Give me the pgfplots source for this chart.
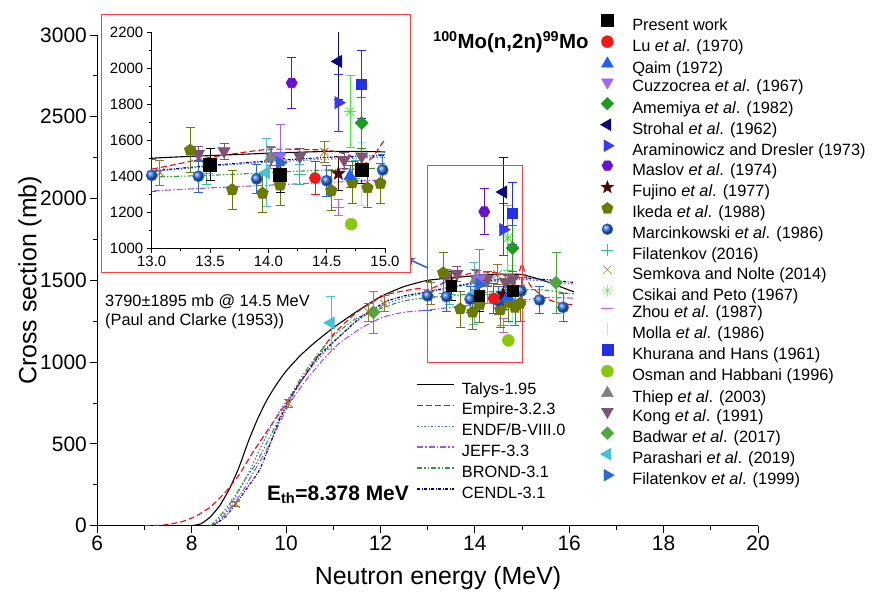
\documentclass[border=0pt]{standalone}
\usepackage{pgfplots}
\pgfplotsset{compat=1.18}
\usepackage{pgfplotstable}
\usepackage{fontspec}
\setmainfont{Liberation Sans}
\usetikzlibrary{arrows.meta}

% ---------- custom marks ----------
\pgfdeclareplotmark{rtri}{\pgfpathmoveto{\pgfpointpolar{0}{1.25\pgfplotmarksize}}\pgfpathlineto{\pgfpointpolar{120}{1.25\pgfplotmarksize}}\pgfpathlineto{\pgfpointpolar{240}{1.25\pgfplotmarksize}}\pgfpathclose\pgfusepathqfillstroke}
\pgfdeclareplotmark{ltri}{\pgfpathmoveto{\pgfpointpolar{180}{1.25\pgfplotmarksize}}\pgfpathlineto{\pgfpointpolar{300}{1.25\pgfplotmarksize}}\pgfpathlineto{\pgfpointpolar{60}{1.25\pgfplotmarksize}}\pgfpathclose\pgfusepathqfillstroke}
\pgfdeclareplotmark{utri}{\pgfpathmoveto{\pgfpointpolar{90}{1.25\pgfplotmarksize}}\pgfpathlineto{\pgfpointpolar{210}{1.25\pgfplotmarksize}}\pgfpathlineto{\pgfpointpolar{330}{1.25\pgfplotmarksize}}\pgfpathclose\pgfusepathqfillstroke}
\pgfdeclareplotmark{dtri}{\pgfpathmoveto{\pgfpointpolar{270}{1.25\pgfplotmarksize}}\pgfpathlineto{\pgfpointpolar{30}{1.25\pgfplotmarksize}}\pgfpathlineto{\pgfpointpolar{150}{1.25\pgfplotmarksize}}\pgfpathclose\pgfusepathqfillstroke}
\pgfdeclareplotmark{hexa}{\pgfpathmoveto{\pgfpointpolar{0}{\pgfplotmarksize}}\pgfpathlineto{\pgfpointpolar{60}{\pgfplotmarksize}}\pgfpathlineto{\pgfpointpolar{120}{\pgfplotmarksize}}\pgfpathlineto{\pgfpointpolar{180}{\pgfplotmarksize}}\pgfpathlineto{\pgfpointpolar{240}{\pgfplotmarksize}}\pgfpathlineto{\pgfpointpolar{300}{\pgfplotmarksize}}\pgfpathclose\pgfusepathqfillstroke}
\pgfdeclareplotmark{rdiam}{\pgfpathmoveto{\pgfpointpolar{0}{1.15\pgfplotmarksize}}\pgfpathlineto{\pgfpointpolar{90}{1.15\pgfplotmarksize}}\pgfpathlineto{\pgfpointpolar{180}{1.15\pgfplotmarksize}}\pgfpathlineto{\pgfpointpolar{270}{1.15\pgfplotmarksize}}\pgfpathclose\pgfusepathqfillstroke}
\pgfdeclareplotmark{fstar}{\pgfpathmoveto{\pgfpointpolar{90}{1.2\pgfplotmarksize}}%
\pgfpathlineto{\pgfpointpolar{126}{0.5\pgfplotmarksize}}\pgfpathlineto{\pgfpointpolar{162}{1.2\pgfplotmarksize}}%
\pgfpathlineto{\pgfpointpolar{198}{0.5\pgfplotmarksize}}\pgfpathlineto{\pgfpointpolar{234}{1.2\pgfplotmarksize}}%
\pgfpathlineto{\pgfpointpolar{270}{0.5\pgfplotmarksize}}\pgfpathlineto{\pgfpointpolar{306}{1.2\pgfplotmarksize}}%
\pgfpathlineto{\pgfpointpolar{342}{0.5\pgfplotmarksize}}\pgfpathlineto{\pgfpointpolar{18}{1.2\pgfplotmarksize}}%
\pgfpathlineto{\pgfpointpolar{54}{0.5\pgfplotmarksize}}\pgfpathclose\pgfusepathqfillstroke}
\pgfdeclareplotmark{ast8}{\pgfpathmoveto{\pgfpointpolar{0}{\pgfplotmarksize}}\pgfpathlineto{\pgfpointpolar{180}{\pgfplotmarksize}}%
\pgfpathmoveto{\pgfpointpolar{45}{\pgfplotmarksize}}\pgfpathlineto{\pgfpointpolar{225}{\pgfplotmarksize}}%
\pgfpathmoveto{\pgfpointpolar{90}{\pgfplotmarksize}}\pgfpathlineto{\pgfpointpolar{270}{\pgfplotmarksize}}%
\pgfpathmoveto{\pgfpointpolar{135}{\pgfplotmarksize}}\pgfpathlineto{\pgfpointpolar{315}{\pgfplotmarksize}}\pgfusepathqstroke}

% ---------- colours ----------
\definecolor{cLu}{RGB}{240,25,25}
\definecolor{cQaim}{RGB}{30,95,255}
\definecolor{cCuz}{RGB}{164,99,242}
\definecolor{cAme}{RGB}{31,154,31}
\definecolor{cStr}{RGB}{10,10,122}
\definecolor{cAra}{RGB}{56,56,245}
\definecolor{cMas}{RGB}{102,18,204}
\definecolor{cFuj}{RGB}{77,10,10}
\definecolor{cIke}{RGB}{107,122,0}
\definecolor{cMar}{RGB}{40,105,215}
\definecolor{cFilA}{RGB}{47,191,154}
\definecolor{cSem}{RGB}{160,112,46}
\definecolor{cCsi}{RGB}{68,238,51}
\definecolor{cZho}{RGB}{198,94,224}
\definecolor{cMol}{RGB}{153,245,221}
\definecolor{cKhu}{RGB}{35,48,232}
\definecolor{cOsm}{RGB}{136,200,10}
\definecolor{cThi}{RGB}{128,128,128}
\definecolor{cKon}{RGB}{127,84,112}
\definecolor{cBad}{RGB}{79,168,61}
\definecolor{cPar}{RGB}{69,194,213}
\definecolor{cFilB}{RGB}{42,106,208}
\definecolor{cEmp}{RGB}{255,0,0}
\definecolor{cEndf}{RGB}{58,108,255}
\definecolor{cJeff}{RGB}{166,77,255}
\definecolor{cBrond}{RGB}{51,153,51}
\definecolor{cCendl}{RGB}{0,0,153}

% ---------- model curves ----------
\pgfplotstableread{
x y
8.0 0
8.2 12
8.4 55
8.6 125
8.8 225
9.0 355
9.2 515
9.4 655
9.6 772
9.8 865
10.0 945
10.3 1040
10.6 1118
11.0 1210
11.5 1310
12.0 1400
12.5 1462
13.0 1500
13.5 1515
14.0 1528
14.5 1538
15.0 1535
15.5 1495
16.0 1440
16.1 1430
}\tTalys
\pgfplotstableread{
x y
7.0 0
7.4 4
7.8 25
8.1 60
8.4 115
8.7 200
9.0 310
9.3 450
9.6 580
9.9 705
10.3 875
10.7 1050
11.0 1170
11.5 1305
12.1 1410
12.8 1450
13.0 1440
13.5 1505
14.0 1550
14.5 1545
14.7 1515
14.8 1460
14.9 1510
15.0 1600
15.1 1510
15.2 1460
15.5 1390
15.8 1360
16.1 1350
}\tEmpire
\pgfplotstableread{
x y
8.4 0
8.6 45
8.8 115
9.0 210
9.2 320
9.4 440
9.6 560
9.8 670
10.0 760
10.3 880
10.6 990
11.0 1120
11.5 1250
12.0 1340
12.5 1395
13.0 1425
13.5 1455
14.0 1478
14.5 1495
15.0 1505
15.5 1495
16.0 1480
16.1 1478
}\tEndf
\pgfplotstableread{
x y
8.45 0
8.65 50
8.87 128
9.1 220
9.3 322
9.6 470
9.86 627
10.1 760
10.43 892
10.8 1020
11.13 1116
11.6 1210
12.05 1275
12.5 1305
13.0 1318
13.5 1335
14.0 1350
14.5 1365
15.0 1380
15.5 1395
16.0 1392
16.1 1390
}\tJeff
\pgfplotstableread{
x y
8.4 0
8.6 60
8.87 159
9.1 270
9.37 383
9.65 540
9.93 699
10.29 892
10.6 1020
10.99 1157
11.5 1270
12.12 1340
12.5 1375
13.0 1395
13.5 1405
14.0 1420
14.5 1435
15.0 1445
15.5 1440
16.0 1420
16.1 1418
}\tBrond
\pgfplotstableread{
x y
8.45 0
8.7 50
8.95 140
9.2 240
9.44 342
9.65 490
9.86 648
10.1 780
10.29 872
10.7 1040
11.13 1157
11.6 1280
12.12 1370
12.5 1405
13.0 1430
13.5 1460
14.0 1485
14.5 1505
15.0 1515
15.5 1505
16.0 1490
16.1 1488
}\tCendl

% ---------- experimental data ----------
\pgfplotstableread{
x y e
13.5 1465 90
14.1 1405 95
14.8 1435 75
}\tPresent
\pgfplotstableread{
x y e
14.4 1390 90
}\tLu
\pgfplotstableread{
x y e
14.7 1400 60
}\tQaim
\pgfplotstableread{
x y e
14.1 1510 180
}\tCuz
\pgfplotstableread{
x y e
14.8 1697 140
}\tAme
\pgfplotstableread{
x y e
14.6 2040 210
}\tStr
\pgfplotstableread{
x y e
14.6 1810 160
}\tAra
\pgfplotstableread{
x y e
14.2 1920 140
}\tMas
\pgfplotstableread{
x y e
14.6 1415 95
}\tFuj
\pgfplotstableread{
x y e
13.33 1545 125
13.69 1325 110
13.95 1305 105
14.1 1350 110
14.54 1320 110
14.72 1365 115
14.85 1335 110
14.96 1360 110
}\tIke
\pgfplotstableread{
x y e
13.0 1405 90
13.4 1400 90
13.9 1385 80
14.5 1375 85
14.98 1435 85
15.37 1380 85
15.87 1335 88
}\tMar
\pgfplotstableread{
x y e
13.47 1415 60
14.27 1412 55
14.75 1440 50
}\tFilA
\pgfplotstableread{
x y e
8.93 135 15
10.05 750 25
11.75 1305 55
12.08 1358 50
13.07 1420 70
14.48 1535 60
}\tSem
\pgfplotstableread{
x y e
14.7 1760 200
}\tCsi
\pgfplotstableread{
x y e
14.6 1225 45
}\tZho
\pgfplotstableread{
x y e
14.8 1415 175
}\tMol
\pgfplotstableread{
x y e
14.8 1910 190
}\tKhu
\pgfplotstableread{
x y e
14.71 1133 0
}\tOsm
\pgfplotstableread{
x y e
14.02 1505 60
}\tThi
\pgfplotstableread{
x y e
13.4 1525 40
13.62 1540 45
14.03 1510 50
14.27 1510 45
14.65 1490 45
14.8 1510 45
}\tKon
\pgfplotstableread{
x y e
11.85 1305 130
15.72 1485 185
}\tBad
\pgfplotstableread{
x y e
10.95 1240 160
13.98 1420 190
}\tPar
\pgfplotstableread{
x y e
14.1 1475 60
}\tFilB

\pgfplotsset{
  exp/.style={only marks, mark size=5.5bp, line width=0.8bp,
    error bars/y dir=both, error bars/y explicit,
    error bars/error bar style={line width=0.8bp, solid},
    error bars/error mark options={rotate=90, mark size=4.5bp, line width=0.8bp, solid}},
  mdl/.style={no marks, smooth, tension=0.3, line width=1.1bp},
}

\newcommand{\curves}{%
  \addplot[mdl, black] table[x=x,y=y]{\tTalys};
  \addplot[mdl, cEmp, dash pattern=on 6bp off 3bp] table[x=x,y=y]{\tEmpire};
  \addplot[mdl, cEndf, dash pattern=on 1.5bp off 2bp] table[x=x,y=y]{\tEndf};
  \addplot[mdl, cJeff, dash pattern=on 6bp off 2bp on 1.5bp off 2bp] table[x=x,y=y]{\tJeff};
  \addplot[mdl, cBrond, dash pattern=on 5bp off 2bp on 1.5bp off 2bp on 1.5bp off 2bp] table[x=x,y=y]{\tBrond};
  \addplot[mdl, cCendl, dash pattern=on 3bp off 1.5bp on 1bp off 1.5bp] table[x=x,y=y]{\tCendl};
}
\newcommand{\expdata}{%
  \addplot[exp, cMol, mark=|, mark size=6bp] table[x=x,y=y,y error=e]{\tMol};
  \addplot[exp, cZho, mark=-, mark size=6bp] table[x=x,y=y,y error=e]{\tZho};
  \addplot[exp, cPar, mark=ltri] table[x=x,y=y,y error=e]{\tPar};
  \addplot[exp, cBad, mark=rdiam] table[x=x,y=y,y error=e]{\tBad};
  \addplot[exp, cKon, mark=dtri] table[x=x,y=y,y error=e]{\tKon};
  \addplot[exp, cThi, mark=utri] table[x=x,y=y,y error=e]{\tThi};
  \addplot[exp, cKhu, mark=square*, mark size=5bp] table[x=x,y=y,y error=e]{\tKhu};
  \addplot[exp, cCsi, mark=ast8, mark size=6bp] table[x=x,y=y,y error=e]{\tCsi};
  \addplot[exp, cSem, mark=x, mark size=6bp] table[x=x,y=y,y error=e]{\tSem};
  \addplot[exp, cFilA, mark=+, mark size=6bp] table[x=x,y=y,y error=e]{\tFilA};
  \addplot[exp, cIke, mark=pentagon*, mark size=6bp] table[x=x,y=y,y error=e]{\tIke};
  \addplot[exp, cMar, mark=ball, ball color=cMar] table[x=x,y=y,y error=e]{\tMar};
  \addplot[exp, cFuj, mark=fstar] table[x=x,y=y,y error=e]{\tFuj};
  \addplot[exp, cMas, mark=hexa] table[x=x,y=y,y error=e]{\tMas};
  \addplot[exp, cAra, mark=rtri] table[x=x,y=y,y error=e]{\tAra};
  \addplot[exp, cStr, mark=ltri] table[x=x,y=y,y error=e]{\tStr};
  \addplot[exp, cAme, mark=rdiam] table[x=x,y=y,y error=e]{\tAme};
  \addplot[exp, cCuz, mark=dtri] table[x=x,y=y,y error=e]{\tCuz};
  \addplot[exp, cQaim, mark=utri] table[x=x,y=y,y error=e]{\tQaim};
  \addplot[exp, cLu, mark=*] table[x=x,y=y,y error=e]{\tLu};
  \addplot[exp, cFilB, mark=rtri] table[x=x,y=y,y error=e]{\tFilB};
  \addplot[only marks, cOsm, mark=*, mark size=6bp] table[x=x,y=y]{\tOsm};
  \addplot[exp, black, mark=square*, mark size=\psq] table[x=x,y=y,y error=e]{\tPresent};
}

\begin{document}
\begin{tikzpicture}
\path[use as bounding box] (0bp,0bp) rectangle (875bp,597bp);

% ===== main axis =====
\def\psq{5.3bp}
\begin{axis}[
  at={(97.3bp,71.3bp)}, anchor=south west,
  scale only axis, width=660.7bp, height=490.7bp,
  xmin=6, xmax=20, ymin=0, ymax=3000,
  axis x line*=bottom, axis y line*=left,
  xtick={6,8,10,12,14,16,18,20}, ytick={0,500,1000,1500,2000,2500,3000},
  minor x tick num=1, minor y tick num=1,
  tick align=outside, major tick length=7bp, minor tick length=4bp,
  tick style={black, line width=0.9bp},
  axis line style={line width=0.9bp},
  ticklabel style={font=\fontsize{21}{25}\selectfont},
  /pgf/number format/assume math mode=true,
  /pgf/number format/1000 sep={},
  xlabel={Neutron energy (MeV)}, ylabel={Cross section (mb)},
  label style={font=\fontsize{25}{30}\selectfont},
  xlabel style={at={(axis description cs:0.5157,-0.1066)}, anchor=center},
  ylabel style={at={(axis description cs:-0.102,0.5)}, anchor=center},
]
\curves
\expdata
\draw[red!75, line width=1bp] (axis cs:13,1000) rectangle (axis cs:15,2200);
\end{axis}

% annotations
\node[anchor=center, font=\fontsize{20.5}{22}\selectfont\bfseries] at (511bp,555bp) {\textsuperscript{100}Mo(n,2n)\textsuperscript{99}Mo};
\node[anchor=center, font=\fontsize{21}{24}\selectfont\bfseries] at (338bp,102bp) {E\textsubscript{th}=8.378 MeV};
\node[anchor=north west, align=left, inner sep=0pt, font=\fontsize{16.4}{20}\selectfont] at (105bp,303bp) {3790±1895 mb @ 14.5 MeV\\(Paul and Clarke (1953))};
\draw[-{Stealth[length=9bp,width=8bp]}, color=cFilB, line width=1.6bp] (428bp,329bp) -- (406bp,339bp);

% ===== inset =====
\draw[red!75, line width=1bp, fill=white] (101.7bp,324bp) rectangle (410bp,582bp);
\def\psq{6.5bp}
\begin{axis}[
  at={(151.7bp,349bp)}, anchor=south west,
  scale only axis, width=233.3bp, height=215.3bp,
  xmin=13, xmax=15, ymin=1000, ymax=2200,
  axis x line*=bottom, axis y line*=left,
  xtick={13,13.5,14,14.5,15}, ytick={1000,1200,1400,1600,1800,2000,2200},
  minor x tick num=1, minor y tick num=1,
  tick align=outside, major tick length=5bp, minor tick length=3bp,
  tick style={black, line width=0.8bp},
  axis line style={line width=0.8bp},
  ticklabel style={font=\fontsize{15}{18}\selectfont},
  /pgf/number format/assume math mode=true,
  /pgf/number format/1000 sep={},
  xticklabel style={/pgf/number format/.cd, fixed, fixed zerofill, precision=1},
]
\curves
\expdata
\end{axis}

% ===== model legend =====
\begin{axis}[
  at={(0bp,0bp)}, anchor=south west, scale only axis, width=875bp, height=597bp,
  xmin=0, xmax=1, ymin=0, ymax=1, hide axis,
  legend style={draw=none, fill=none, at={(0.47623,0.36013)}, anchor=north west,
    inner sep=0pt, outer sep=0pt, font=\fontsize{16.4}{19}\selectfont, row sep=4.9bp,
    nodes={inner sep=0pt, text height=12bp, text depth=4bp},
    /tikz/every odd column/.append style={column sep=6.7bp}},
  legend cell align=left,
  legend image code/.code={\draw[#1] (0bp,5.5bp) -- (37bp,5.5bp);},
]
\addlegendimage{draw=black, line width=1.5bp}
\addlegendentry{Talys-1.95}
\addlegendimage{draw=cEmp, line width=1.5bp, dash pattern=on 6bp off 3bp}
\addlegendentry{Empire-3.2.3}
\addlegendimage{draw=cEndf, line width=1.5bp, dash pattern=on 1.5bp off 2bp}
\addlegendentry{ENDF/B-VIII.0}
\addlegendimage{draw=cJeff, line width=1.5bp, dash pattern=on 6bp off 2bp on 1.5bp off 2bp}
\addlegendentry{JEFF-3.3}
\addlegendimage{draw=cBrond, line width=1.5bp, dash pattern=on 5bp off 2bp on 1.5bp off 2bp on 1.5bp off 2bp}
\addlegendentry{BROND-3.1}
\addlegendimage{draw=cCendl, line width=1.5bp, dash pattern=on 3bp off 1.5bp on 1bp off 1.5bp}
\addlegendentry{CENDL-3.1}
\end{axis}

% ===== experimental legend =====
\begin{axis}[
  at={(0bp,0bp)}, anchor=south west, scale only axis, width=875bp, height=597bp,
  xmin=0, xmax=1, ymin=0, ymax=1, hide axis,
  legend style={draw=none, fill=none, at={(0.68629,0.97554)}, anchor=north west,
    inner sep=0pt, outer sep=0pt, font=\fontsize{16.4}{19}\selectfont, row sep=1.6bp,
    nodes={inner sep=0pt, text height=12bp, text depth=4bp},
    /tikz/every odd column/.append style={column sep=18bp}},
  legend cell align=left,
  legend image code/.code={\draw[#1] plot coordinates {(6bp,5.5bp)};},
]
\addlegendimage{only marks, black, mark=square*, mark size=6bp}
\addlegendentry{Present work}
\addlegendimage{only marks, cLu, mark=*, mark size=6bp}
\addlegendentry{Lu \textit{et al}. (1970)}
\addlegendimage{only marks, cQaim, mark=utri, mark size=5.5bp}
\addlegendentry{Qaim (1972)}
\addlegendimage{only marks, cCuz, mark=dtri, mark size=5.5bp}
\addlegendentry{Cuzzocrea \textit{et al}. (1967)}
\addlegendimage{only marks, cAme, mark=rdiam, mark size=5.5bp}
\addlegendentry{Amemiya \textit{et al}. (1982)}
\addlegendimage{only marks, cStr, mark=ltri, mark size=5.5bp}
\addlegendentry{Strohal \textit{et al}. (1962)}
\addlegendimage{only marks, cAra, mark=rtri, mark size=5.5bp}
\addlegendentry{Araminowicz and Dresler (1973)}
\addlegendimage{only marks, cMas, mark=hexa, mark size=5.5bp}
\addlegendentry{Maslov \textit{et al}. (1974)}
\addlegendimage{only marks, cFuj, mark=fstar, mark size=5.5bp}
\addlegendentry{Fujino \textit{et al}. (1977)}
\addlegendimage{only marks, cIke, mark=pentagon*, mark size=6bp}
\addlegendentry{Ikeda \textit{et al}. (1988)}
\addlegendimage{only marks, cMar, mark=ball, ball color=cMar, mark size=5.5bp}
\addlegendentry{Marcinkowski \textit{et al}. (1986)}
\addlegendimage{only marks, cFilA, mark=+, mark size=6bp}
\addlegendentry{Filatenkov (2016)}
\addlegendimage{only marks, cSem, mark=x, mark size=6bp}
\addlegendentry{Semkova and Nolte (2014)}
\addlegendimage{only marks, cCsi, mark=ast8, mark size=6bp}
\addlegendentry{Csikai and Peto (1967)}
\addlegendimage{only marks, cZho, mark=-, mark size=6bp}
\addlegendentry{Zhou \textit{et al}. (1987)}
\addlegendimage{only marks, cMol, mark=|, mark size=6bp}
\addlegendentry{Molla \textit{et al}. (1986)}
\addlegendimage{only marks, cKhu, mark=square*, mark size=5.5bp}
\addlegendentry{Khurana and Hans (1961)}
\addlegendimage{only marks, cOsm, mark=*, mark size=6bp}
\addlegendentry{Osman and Habbani (1996)}
\addlegendimage{only marks, cThi, mark=utri, mark size=5.5bp}
\addlegendentry{Thiep \textit{et al}. (2003)}
\addlegendimage{only marks, cKon, mark=dtri, mark size=5.5bp}
\addlegendentry{Kong \textit{et al}. (1991)}
\addlegendimage{only marks, cBad, mark=rdiam, mark size=5.5bp}
\addlegendentry{Badwar \textit{et al}. (2017)}
\addlegendimage{only marks, cPar, mark=ltri, mark size=5.5bp}
\addlegendentry{Parashari \textit{et al}. (2019)}
\addlegendimage{only marks, cFilB, mark=rtri, mark size=5.5bp}
\addlegendentry{Filatenkov \textit{et al}. (1999)}
\end{axis}
\end{tikzpicture}
\end{document}
